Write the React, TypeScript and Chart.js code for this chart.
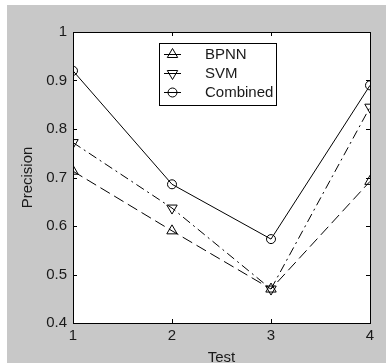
import React, { useEffect, useRef } from "react";
import { Chart, registerables } from "chart.js";

Chart.register(...registerables);

const tests = [1, 2, 3, 4];
const bpnn = [0.713, 0.59, 0.47, 0.692];
const svm = [0.772, 0.637, 0.47, 0.845];
const combined = [0.92, 0.686, 0.573, 0.89];
const seriesNames = ["BPNN", "SVM", "Combined"];
const yTickValues = [0.4, 0.5, 0.6, 0.7, 0.8, 0.9, 1];

const FONT = "'Liberation Sans', Arial, Helvetica, sans-serif";
const FG = "#000000";
const TXT = "#1a1a1a";

function drawMarker(ctx: CanvasRenderingContext2D, style: string, rot: number, x: number, y: number, r: number) {
  ctx.save();
  ctx.beginPath();
  if (style === "circle") {
    ctx.arc(x, y, r, 0, Math.PI * 2);
  } else {
    const base = (rot * Math.PI) / 180;
    for (let i = 0; i < 3; i++) {
      const a = base + (i * 2 * Math.PI) / 3;
      const px = x + Math.sin(a) * r;
      const py = y - Math.cos(a) * r;
      if (i === 0) ctx.moveTo(px, py);
      else ctx.lineTo(px, py);
    }
    ctx.closePath();
  }
  ctx.strokeStyle = FG;
  ctx.lineWidth = 1;
  ctx.stroke();
  ctx.restore();
}

const framePlugin = {
  id: "frame",
  beforeDraw(chart: any) {
    const ctx = chart.ctx as CanvasRenderingContext2D;
    const { left, right, top, bottom } = chart.chartArea;
    ctx.save();
    ctx.fillStyle = "#ffffff";
    ctx.fillRect(0, 0, chart.width, chart.height);
    ctx.fillStyle = "#c8c8c8";
    ctx.fillRect(7, 5, chart.width - 7, chart.height - 6);
    ctx.fillStyle = "#ffffff";
    ctx.fillRect(left, top, right - left, bottom - top);
    ctx.restore();
  },
  beforeDatasetsDraw(chart: any) {
    const ctx = chart.ctx as CanvasRenderingContext2D;
    const { left, right, top, bottom } = chart.chartArea;
    const xs = chart.scales.x;
    const ys = chart.scales.y;
    const tl = 4;
    ctx.save();
    ctx.strokeStyle = FG;
    ctx.lineWidth = 1;
    ctx.beginPath();
    for (const v of tests) {
      const px = Math.round(xs.getPixelForValue(v)) + 0.5;
      ctx.moveTo(px, bottom);
      ctx.lineTo(px, bottom - tl);
      ctx.moveTo(px, top);
      ctx.lineTo(px, top + tl);
    }
    for (const v of yTickValues) {
      const py = Math.round(ys.getPixelForValue(v)) + 0.5;
      ctx.moveTo(left, py);
      ctx.lineTo(left + tl, py);
      ctx.moveTo(right, py);
      ctx.lineTo(right - tl, py);
    }
    ctx.stroke();
    ctx.strokeRect(Math.round(left) + 0.5, Math.round(top) + 0.5, Math.round(right - left), Math.round(bottom - top));
    ctx.restore();
  },
  afterDatasetsDraw(chart: any) {
    const ctx = chart.ctx as CanvasRenderingContext2D;
    const bx = 159.5, by = 43.5, bw = 117, bh = 62;
    ctx.save();
    ctx.fillStyle = "#ffffff";
    ctx.fillRect(bx, by, bw, bh);
    ctx.strokeStyle = FG;
    ctx.lineWidth = 1;
    ctx.strokeRect(bx, by, bw, bh);
    const rows = [54, 73, 92];
    chart.data.datasets.forEach((ds: any, i: number) => {
      const y = rows[i] + 0.5;
      ctx.beginPath();
      ctx.setLineDash([]);
      ctx.moveTo(164, y);
      ctx.lineTo(181, y);
      ctx.stroke();
      drawMarker(ctx, ds.pointStyle, ds.pointRotation || 0, 172.5, y, ds.pointRadius);
      ctx.fillStyle = TXT;
      ctx.font = `15px ${FONT}`;
      ctx.textBaseline = "middle";
      ctx.textAlign = "left";
      ctx.fillText(ds.label, 205, rows[i] + 1);
    });
    ctx.restore();
  },
};

export default function App() {
  const ref = useRef<HTMLCanvasElement | null>(null);
  useEffect(() => {
    if (!ref.current) return;
    const mk = (vals: number[]) => vals.map((v, i) => ({ x: tests[i], y: v }));
    const chart = new Chart(ref.current, {
      type: "line",
      data: {
        datasets: [
          {
            label: seriesNames[0],
            data: mk(bpnn),
            borderColor: FG,
            borderWidth: 1,
            borderDash: [11, 5],
            pointStyle: "triangle",
            pointRadius: 6,
            pointBorderColor: FG,
            pointBackgroundColor: "rgba(0,0,0,0)",
            pointBorderWidth: 1,
            fill: false,
          },
          {
            label: seriesNames[1],
            data: mk(svm),
            borderColor: FG,
            borderWidth: 1,
            borderDash: [9, 4, 2, 4],
            pointStyle: "triangle",
            pointRotation: 180,
            pointRadius: 6,
            pointBorderColor: FG,
            pointBackgroundColor: "rgba(0,0,0,0)",
            pointBorderWidth: 1,
            fill: false,
          },
          {
            label: seriesNames[2],
            data: mk(combined),
            borderColor: FG,
            borderWidth: 1,
            pointStyle: "circle",
            pointRadius: 4.5,
            pointBorderColor: FG,
            pointBackgroundColor: "rgba(0,0,0,0)",
            pointBorderWidth: 1,
            fill: false,
          },
        ],
      },
      options: {
        animation: false,
        responsive: false,
        devicePixelRatio: 1,
        layout: { padding: { left: 0, top: 32, right: 16, bottom: 0 } },
        plugins: { legend: { display: false }, tooltip: { enabled: false } },
        scales: {
          x: {
            type: "linear",
            min: 1,
            max: 4,
            afterFit: (s: any) => { s.height = 41; },
            afterBuildTicks: (s: any) => { s.ticks = tests.map((v) => ({ value: v })); },
            grid: { display: false, drawTicks: false },
            border: { display: false },
            ticks: {
              color: TXT,
              font: { family: FONT, size: 15 },
              padding: 4,
              maxRotation: 0,
              autoSkip: false,
              callback: (v: any) => String(v),
            },
            title: {
              display: true,
              text: "Test",
              color: TXT,
              font: { family: FONT, size: 15 },
              padding: { top: 0, bottom: -3 },
            },
          },
          y: {
            type: "linear",
            min: 0.4,
            max: 1,
            afterFit: (s: any) => { s.width = 73; },
            afterBuildTicks: (s: any) => { s.ticks = yTickValues.map((v) => ({ value: v })); },
            grid: { display: false, drawTicks: false },
            border: { display: false },
            ticks: {
              color: TXT,
              font: { family: FONT, size: 15 },
              padding: 6,
              autoSkip: false,
              callback: (v: any) => String(Number(Number(v).toFixed(1))),
            },
            title: {
              display: true,
              text: "Precision",
              color: TXT,
              font: { family: FONT, size: 15 },
              padding: { top: 19, bottom: 0 },
            },
          },
        },
      },
      plugins: [framePlugin],
    } as any);
    return () => chart.destroy();
  }, []);
  return (
    <div style={{ position: "absolute", left: 0, top: 0, width: 386, height: 364 }}>
      <canvas ref={ref} width={386} height={364} style={{ display: "block", width: 386, height: 364 }} />
    </div>
  );
}
